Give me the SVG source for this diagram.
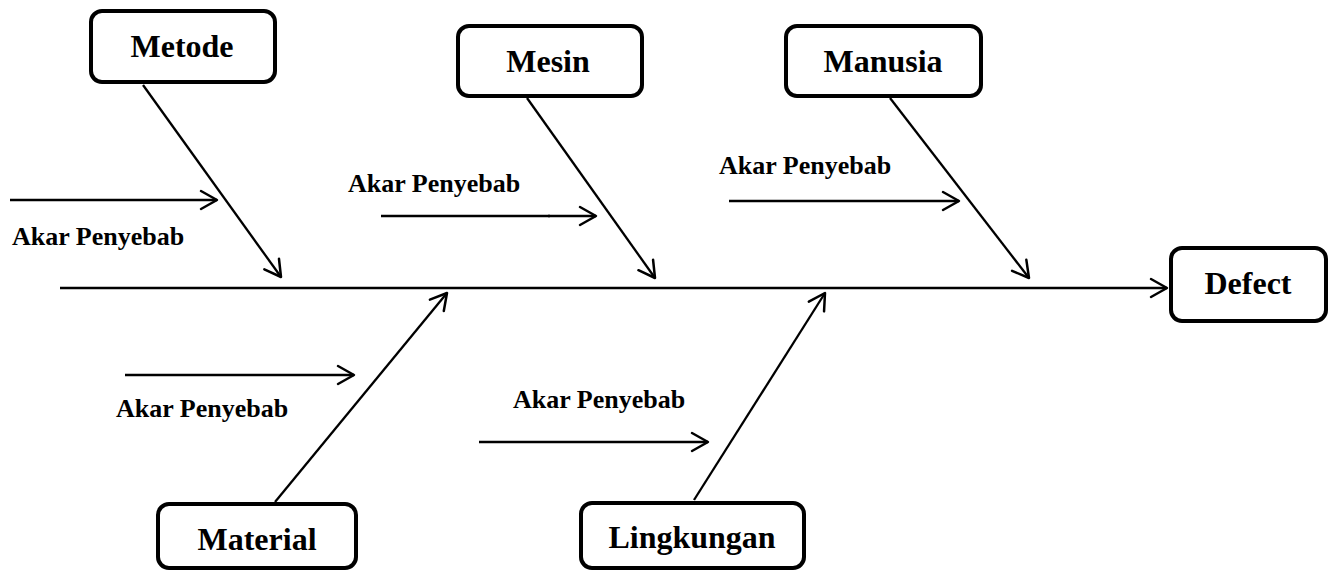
<svg xmlns="http://www.w3.org/2000/svg" width="1334" height="572" viewBox="0 0 1334 572">
  <style>
    .box { fill: #fff; stroke: #000; stroke-width: 4; }
    .lbl { font-family: "Liberation Serif", "Times New Roman", serif; font-weight: bold; font-size: 32px; fill: #000; text-anchor: middle; }
    .akar { font-family: "Liberation Serif", "Times New Roman", serif; font-weight: bold; font-size: 26px; fill: #000; }
    .ln { stroke: #000; stroke-width: 2.3; fill: none; }
  </style>
  <defs>
    <marker id="arr" markerUnits="userSpaceOnUse" viewBox="-18 -11 20 22" refX="0" refY="0" markerWidth="20" markerHeight="22" orient="auto">
      <path d="M-16,-9 L0,0 L-16,9" fill="none" stroke="#000" stroke-width="2.5" stroke-linejoin="round" stroke-linecap="round"/>
    </marker>
  </defs>
  <rect width="1334" height="572" fill="#fff"/>
  <g id="connectors">
    <line class="ln" x1="60" y1="288" x2="1167" y2="288" stroke-width="2.6" marker-end="url(#arr)"/>
    <line class="ln" x1="143" y1="85" x2="281" y2="277" marker-end="url(#arr)"/>
    <line class="ln" x1="527" y1="98" x2="655" y2="278" marker-end="url(#arr)"/>
    <line class="ln" x1="890" y1="98" x2="1029" y2="278" marker-end="url(#arr)"/>
    <line class="ln" x1="275" y1="502" x2="447" y2="293" marker-end="url(#arr)"/>
    <line class="ln" x1="694" y1="500" x2="825" y2="293" marker-end="url(#arr)"/>
    <line class="ln" x1="10" y1="200" x2="217" y2="200" marker-end="url(#arr)"/>
    <line class="ln" x1="381" y1="216" x2="550" y2="216" stroke-width="1.5"/>
    <line class="ln" x1="548" y1="216" x2="596" y2="216" marker-end="url(#arr)"/>
    <line class="ln" x1="729" y1="201" x2="959" y2="201" marker-end="url(#arr)"/>
    <line class="ln" x1="125" y1="375" x2="354" y2="375" marker-end="url(#arr)"/>
    <line class="ln" x1="479" y1="442" x2="708" y2="442" marker-end="url(#arr)"/>
  </g>
  <g id="akar-labels">
    <text class="akar" x="12" y="245">Akar Penyebab</text>
    <text class="akar" x="348" y="192">Akar Penyebab</text>
    <text class="akar" x="719" y="174">Akar Penyebab</text>
    <text class="akar" x="116" y="417">Akar Penyebab</text>
    <text class="akar" x="513" y="408">Akar Penyebab</text>
  </g>
  <g id="metode">
    <rect class="box" x="91" y="11" width="184" height="71" rx="11"/>
    <text class="lbl" x="182" y="57">Metode</text>
  </g>
  <g id="mesin">
    <rect class="box" x="458" y="26" width="184" height="70" rx="11"/>
    <text class="lbl" x="548" y="72">Mesin</text>
  </g>
  <g id="manusia">
    <rect class="box" x="786" y="26" width="195" height="70" rx="11"/>
    <text class="lbl" x="883" y="72">Manusia</text>
  </g>
  <g id="defect">
    <rect class="box" x="1171" y="248" width="155" height="73" rx="11"/>
    <text class="lbl" x="1248" y="294">Defect</text>
  </g>
  <g id="material">
    <rect class="box" x="158" y="504" width="198" height="64" rx="11"/>
    <text class="lbl" x="257" y="550">Material</text>
  </g>
  <g id="lingkungan">
    <rect class="box" x="581" y="503" width="223" height="65" rx="11"/>
    <text class="lbl" x="692" y="548">Lingkungan</text>
  </g>
</svg>
